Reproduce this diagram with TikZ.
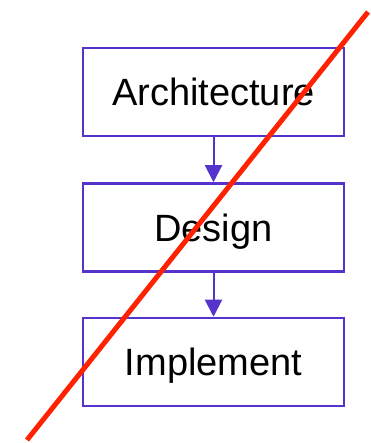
\documentclass[tikz,border=0pt]{standalone}
\usepackage{fontspec}
\setmainfont{Liberation Sans}
\usetikzlibrary{arrows.meta}
\definecolor{boxc}{RGB}{85,51,204}
\definecolor{strike}{RGB}{255,34,0}
\begin{document}
\begin{tikzpicture}[x=1pt,y=1pt,
  stagebox/.style={draw=boxc, line width=2.5pt, fill=white, minimum width=261pt, minimum height=88pt, inner sep=0pt, text height=27.5pt, text depth=0pt, font=\fontsize{38}{44}\selectfont},
  flowarrow/.style={draw=boxc, line width=2pt, -{Triangle[length=17pt,width=17pt]}, color=boxc}]
\useasboundingbox (0,0) rectangle (370,443);
\fill[white] (0,0) rectangle (370,443);
\node[stagebox] (arch) at (213.5,351) {Architecture};
\node[stagebox] (design) at (213.5,215.5) {Design};
\node[stagebox] (impl) at (213.5,81) {Implement};
\draw[flowarrow] (arch.south) -- (design.north);
\draw[flowarrow] (design.south) -- (impl.north);
\coordinate (r1) at (368,431);
\coordinate (r2) at (27,3);
\draw[strike, line width=5pt] (r1) -- (r2);
\end{tikzpicture}
\end{document}
